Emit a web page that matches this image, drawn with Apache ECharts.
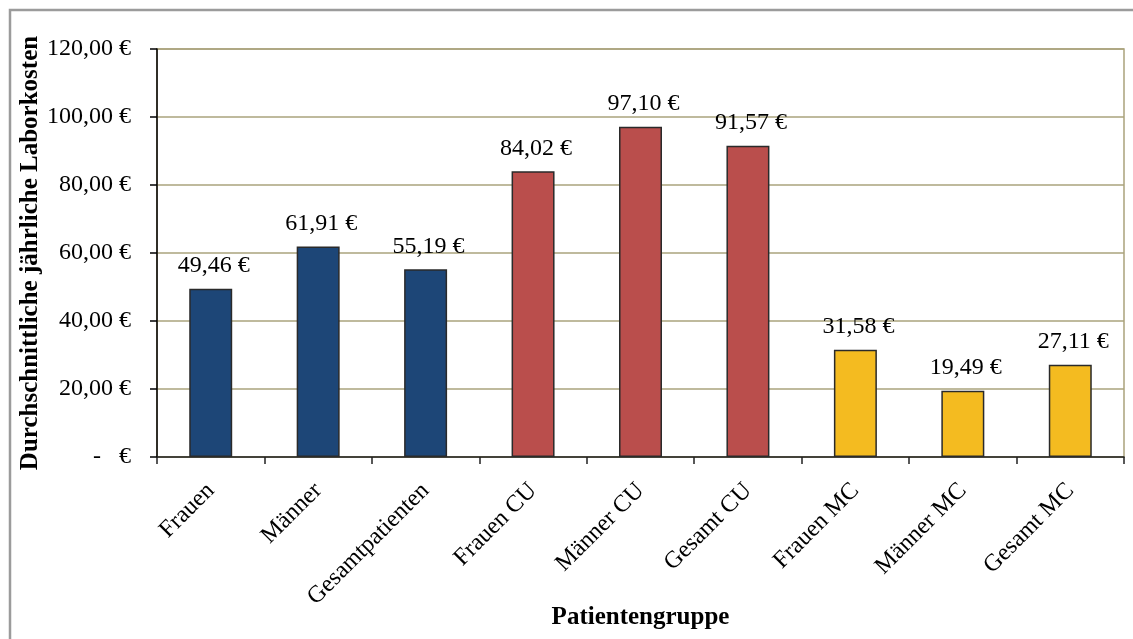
<!DOCTYPE html>
<html>
<head>
<meta charset="utf-8">
<script src="https://cdn.jsdelivr.net/npm/echarts@6/dist/echarts.min.js"></script>
<style>
  html, body { margin: 0; padding: 0; background: #ffffff; }
  #chart { width: 1133px; height: 639px; }
</style>
</head>
<body>
<div id="chart"></div>
<script>
// Average yearly lab costs per patient group (EUR)
const categories = ['Frauen', 'Männer', 'Gesamtpatienten', 'Frauen CU', 'Männer CU', 'Gesamt CU', 'Frauen MC', 'Männer MC', 'Gesamt MC'];
const costs = [49.46, 61.91, 55.19, 84.02, 97.10, 91.57, 31.58, 19.49, 27.11];
// group of each category: 0 = all patients, 1 = CU, 2 = MC
const groups = [0, 0, 0, 1, 1, 1, 2, 2, 2];
const yTicks = [0, 20, 40, 60, 80, 100, 120];

const groupColors = ['#1d4677', '#ba4e4c', '#f4bb20'];
const serif = "'Liberation Serif', 'Times New Roman', serif";

function euro(v) {
  if (v === 0) return '-   €';
  return v.toFixed(2).replace('.', ',') + ' €';
}

const chart = echarts.init(document.getElementById('chart'));
chart.setOption({
  animation: false,
  backgroundColor: '#ffffff',
  textStyle: { fontFamily: serif, color: '#000' },
  graphic: [{
    type: 'rect',
    shape: { x: 10, y: 10, width: 1200, height: 700 },
    style: { fill: 'none', stroke: '#9b9b9b', lineWidth: 2.5 },
    silent: true
  }],
  grid: {
    left: 157, right: 9, top: 49, bottom: 182,
    show: true, borderColor: '#aaa37c', borderWidth: 1.5,
    containLabel: false,
    outerBoundsMode: 'none'
  },
  xAxis: {
    type: 'category',
    data: categories,
    name: 'Patientengruppe',
    nameLocation: 'middle',
    nameGap: 148,
    nameMoveOverlap: false,
    nameTextStyle: { fontFamily: serif, fontSize: 25, fontWeight: 'bold', color: '#000' },
    axisLine: { show: true, lineStyle: { color: '#222', width: 1.5 } },
    axisTick: { show: true, length: 7, alignWithLabel: false, lineStyle: { color: '#222', width: 1.5 } },
    axisLabel: {
      interval: 0, rotate: 45, margin: 30,
      fontFamily: serif, fontSize: 24, color: '#000'
    },
    splitLine: { show: false }
  },
  yAxis: {
    type: 'value',
    min: yTicks[0], max: yTicks[yTicks.length - 1], interval: 20,
    name: 'Durchschnittliche jährliche Laborkosten',
    nameLocation: 'middle',
    nameGap: 114,
    nameRotate: 90,
    nameMoveOverlap: false,
    nameTextStyle: { fontFamily: serif, fontSize: 25, fontWeight: 'bold', color: '#000' },
    axisLine: { show: true, lineStyle: { color: '#000', width: 1.5 } },
    axisTick: { show: true, length: 7, inside: false, lineStyle: { color: '#000', width: 1.5 } },
    axisLabel: {
      margin: 26, fontFamily: serif, fontSize: 24, color: '#000',
      formatter: euro
    },
    splitLine: { show: true, lineStyle: { color: '#aaa37c', width: 1.5 } }
  },
  series: [{
    type: 'bar',
    barWidth: '40%',
    data: costs.map((v, i) => ({
      value: v,
      itemStyle: { color: groupColors[groups[i]] }
    })),
    itemStyle: { borderColor: '#2a2a2a', borderWidth: 1.5 },
    label: {
      show: true, position: 'top', distance: 11, offset: [3, 0],
      fontFamily: serif, fontSize: 24, color: '#000',
      formatter: p => euro(p.value)
    }
  }]
});
</script>
</body>
</html>
